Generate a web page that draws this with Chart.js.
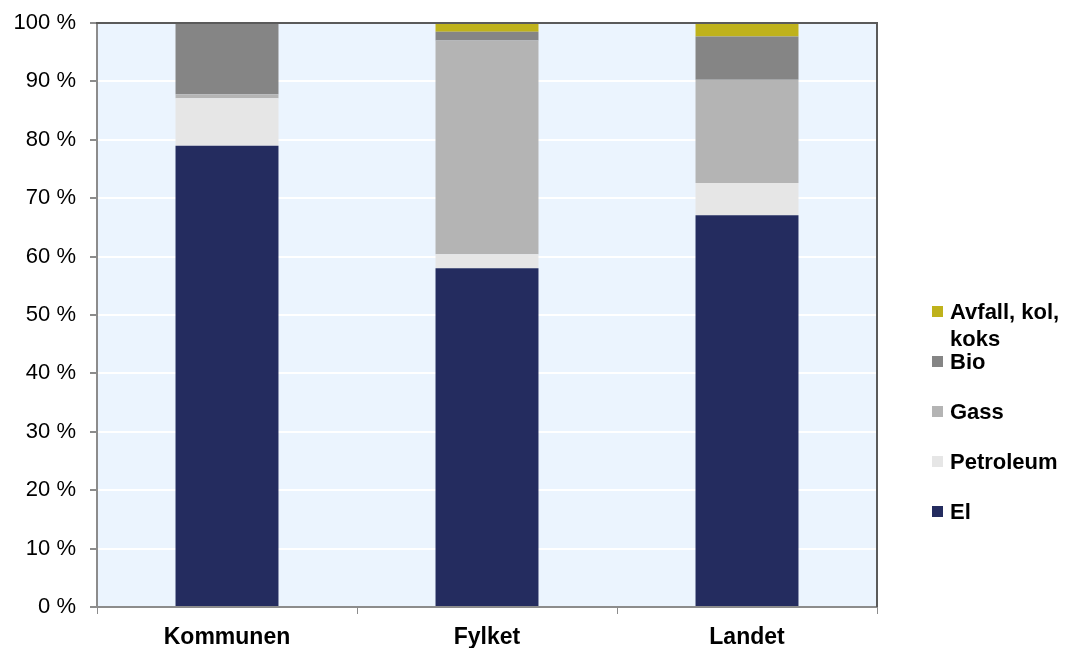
<!DOCTYPE html>
<html>
<head>
<meta charset="utf-8">
<script src="https://cdn.jsdelivr.net/npm/chart.js@4/dist/chart.umd.min.js"></script>
<style>
  html, body { margin: 0; padding: 0; background: #ffffff; }
  #wrap { width: 1071px; height: 648px; position: relative; }
</style>
</head>
<body>
<div id="wrap"><canvas id="c" width="1071" height="648"></canvas></div>
<script>
// Energy use by carrier, share of total (%)
const categories = ['Kommunen', 'Fylket', 'Landet'];
const el        = [79.0, 58.0, 67.1];
const petroleum = [8.1, 2.4, 5.5];
const gass      = [0.7, 36.6, 17.7];
const bio       = [12.2, 1.5, 7.4];
const avfall    = [0.0, 1.5, 2.3];
const yTicks    = [0, 10, 20, 30, 40, 50, 60, 70, 80, 90, 100];

const seriesNames  = ['El', 'Petroleum', 'Gass', 'Bio', ['Avfall, kol,', 'koks']];
const seriesValues = [el, petroleum, gass, bio, avfall];
const seriesColors = ['#242c5f', '#e6e6e6', '#b4b4b4', '#858585', '#bfb21b'];

const FONT = '"Liberation Sans", Arial, sans-serif';

const datasets = seriesValues.map((vals, i) => ({
  label: Array.isArray(seriesNames[i]) ? seriesNames[i].join(' ') : seriesNames[i],
  data: vals,
  backgroundColor: seriesColors[i],
  borderWidth: 0,
  barPercentage: 0.396,
  categoryPercentage: 1.0
}));

// Plot area fill and frame
const plotFrame = {
  id: 'plotFrame',
  beforeDraw(chart) {
    const { ctx, chartArea: a } = chart;
    ctx.save();
    ctx.fillStyle = '#ebf4fe';
    ctx.fillRect(a.left, a.top, a.right - a.left, a.bottom - a.top);
    ctx.restore();
  },
  afterDatasetsDraw(chart) {
    const { ctx, chartArea: a } = chart;
    ctx.save();
    ctx.lineWidth = 2;
    ctx.strokeStyle = '#8c8c8c';
    ctx.beginPath();
    ctx.moveTo(a.left, a.top);
    ctx.lineTo(a.left, a.bottom);
    ctx.lineTo(a.right, a.bottom);
    ctx.stroke();
    ctx.strokeStyle = '#5a5a5a';
    ctx.beginPath();
    ctx.moveTo(a.left - 1, a.top);
    ctx.lineTo(a.right, a.top);
    ctx.lineTo(a.right, a.bottom);
    ctx.stroke();
    ctx.restore();
  }
};

// Right-hand legend, top entry is the last series
const sideLegend = {
  id: 'sideLegend',
  afterDraw(chart) {
    const { ctx } = chart;
    ctx.save();
    ctx.font = 'bold 22px ' + FONT;
    ctx.textBaseline = 'middle';
    ctx.textAlign = 'left';
    const x = 932, size = 11, startY = 311.5, step = 50, lineH = 27;
    const order = [4, 3, 2, 1, 0];
    order.forEach((si, k) => {
      const cy = startY + k * step;
      ctx.fillStyle = seriesColors[si];
      ctx.fillRect(x, cy - size / 2, size, size);
      ctx.fillStyle = '#000000';
      const lines = Array.isArray(seriesNames[si]) ? seriesNames[si] : [seriesNames[si]];
      lines.forEach((t, j) => ctx.fillText(t, x + 18, cy + 1 + j * lineH));
    });
    ctx.restore();
  }
};

new Chart(document.getElementById('c'), {
  type: 'bar',
  data: { labels: categories, datasets },
  plugins: [plotFrame, sideLegend],
  options: {
    responsive: false,
    animation: false,
    layout: { padding: { left: 0, top: 23, right: 194, bottom: 0 } },
    plugins: { legend: { display: false }, tooltip: { enabled: false } },
    scales: {
      x: {
        stacked: true,
        grid: { offset: true, drawOnChartArea: false, color: '#8c8c8c', tickColor: '#8c8c8c', tickLength: 7, lineWidth: 1 },
        border: { display: false },
        ticks: {
          color: '#000000',
          font: { family: FONT, size: 23, weight: 'bold' },
          padding: 10
        },
        afterFit(scale) {
          scale.height = 41;
          scale.paddingLeft = 0;
          scale.paddingRight = 0;
        }
      },
      y: {
        stacked: true,
        min: 0,
        max: 100,
        afterBuildTicks(scale) { scale.ticks = yTicks.map(v => ({ value: v })); },
        grid: { color: '#ffffff', tickColor: '#8c8c8c', tickLength: 7, lineWidth: 2 },
        border: { display: false },
        ticks: {
          color: '#000000',
          font: { family: FONT, size: 22 },
          padding: 14,
          callback: v => v + ' %'
        },
        afterFit(scale) {
          scale.width = 97;
          scale.paddingTop = 0;
          scale.paddingBottom = 0;
        }
      }
    }
  }
});
</script>
</body>
</html>
